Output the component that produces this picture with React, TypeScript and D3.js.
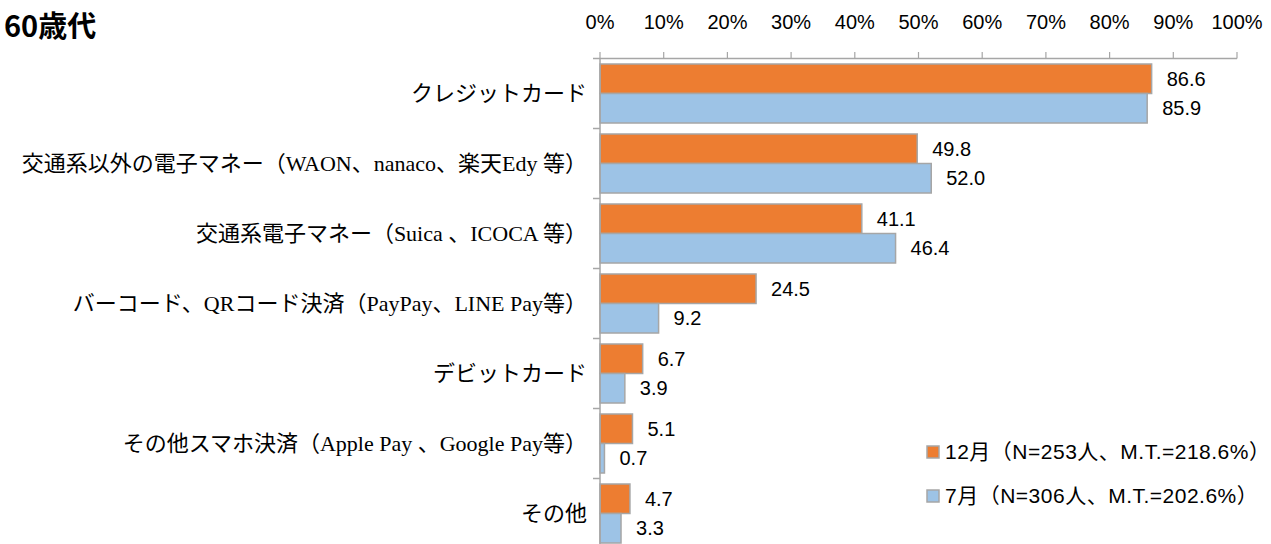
import React from "react";
import * as d3 from "d3";

const title = "60歳代";
const categories = [
  "クレジットカード",
  "交通系以外の電子マネー（WAON、nanaco、楽天Edy 等）",
  "交通系電子マネー（Suica 、ICOCA 等）",
  "バーコード、QRコード決済（PayPay、LINE Pay等）",
  "デビットカード",
  "その他スマホ決済（Apple Pay 、Google Pay等）",
  "その他",
];
const seriesNames = ["12月（N=253人、M.T.=218.6%）", "7月（N=306人、M.T.=202.6%）"];
const decValues = [86.6, 49.8, 41.1, 24.5, 6.7, 5.1, 4.7];
const julValues = [85.9, 52.0, 46.4, 9.2, 3.9, 0.7, 3.3];
const ticks = [0, 10, 20, 30, 40, 50, 60, 70, 80, 90, 100];
const colors = ["#ED7D31", "#9DC3E6"];

const W = 1271;
const H = 544;
const sans = "'Liberation Sans', Arial, 'Noto Sans CJK JP', sans-serif";
const serif = "'Liberation Serif', 'Times New Roman', 'Noto Sans CJK JP', serif";
const axisColor = "#a6a6a6";

export default function App() {
  const x = d3.scaleLinear().domain([0, 100]).range([600, 1237]);
  const y = d3
    .scaleBand<string>()
    .domain(categories)
    .range([58.5, 548.5])
    .paddingInner(0.157)
    .paddingOuter(0.0785);
  const sub = d3.scaleBand<number>().domain([0, 1]).range([0, y.bandwidth()]);
  const step = y.step();
  const series = [decValues, julValues];

  return (
    <svg
      width={W}
      height={H}
      style={{ position: "absolute", left: 0, top: 0, background: "#fff" }}
    >
      <text x={4} y={37} fontFamily="'Noto Sans CJK JP', sans-serif" fontWeight="bold" fontSize={29} fill="#000">
        {title}
      </text>
      {/* top axis */}
      <line x1={x(0)} x2={x(100)} y1={58.5} y2={58.5} stroke={axisColor} strokeWidth={1.5} />
      {ticks.map((t) => (
        <g key={t}>
          <line x1={x(t)} x2={x(t)} y1={52} y2={58.5} stroke={axisColor} strokeWidth={1.2} />
          <text x={x(t)} y={29} textAnchor="middle" fontFamily={sans} fontSize={20} fill="#000">
            {t}%
          </text>
        </g>
      ))}
      {/* bars */}
      {categories.map((c, i) => (
        <g key={c}>
          {series.map((vals, s) => {
            const by = (y(c) as number) + (sub(s) as number);
            const bh = sub.bandwidth();
            return (
              <g key={s}>
                <rect
                  x={x(0)}
                  y={by}
                  width={x(vals[i]) - x(0)}
                  height={bh}
                  fill={colors[s]}
                  stroke={axisColor}
                  strokeWidth={1.5}
                />
                <text
                  x={x(vals[i]) + 15}
                  y={by + bh / 2}
                  dy="0.35em"
                  fontFamily={sans}
                  fontSize={20}
                  fill="#000"
                >
                  {vals[i].toFixed(1)}
                </text>
              </g>
            );
          })}
          <text
            x={587}
            y={(y(c) as number) + y.bandwidth() / 2}
            dy="0.35em"
            textAnchor="end"
            fontFamily={serif}
            fontSize={22}
            style={{ fontFeatureSettings: "'pkna'" }}
            fill="#000"
          >
            {c}
          </text>
        </g>
      ))}
      {/* left axis */}
      <line x1={600} x2={600} y1={58.5} y2={H} stroke={axisColor} strokeWidth={1.5} />
      {d3.range(categories.length + 1).map((k) => (
        <line
          key={k}
          x1={593}
          x2={600}
          y1={58.5 + k * step}
          y2={58.5 + k * step}
          stroke={axisColor}
          strokeWidth={1.5}
        />
      ))}
      {/* legend */}
      {seriesNames.map((n, s) => (
        <g key={n}>
          <rect x={927} y={446 + s * 44} width={12} height={12} fill={colors[s]} stroke={axisColor} strokeWidth={1.5} />
          <text
            x={945}
            y={452 + s * 44}
            dy="0.35em"
            fontFamily={sans}
            fontSize={21}
            letterSpacing={0.5}
            fill="#000"
          >
            {n}
          </text>
        </g>
      ))}
    </svg>
  );
}
